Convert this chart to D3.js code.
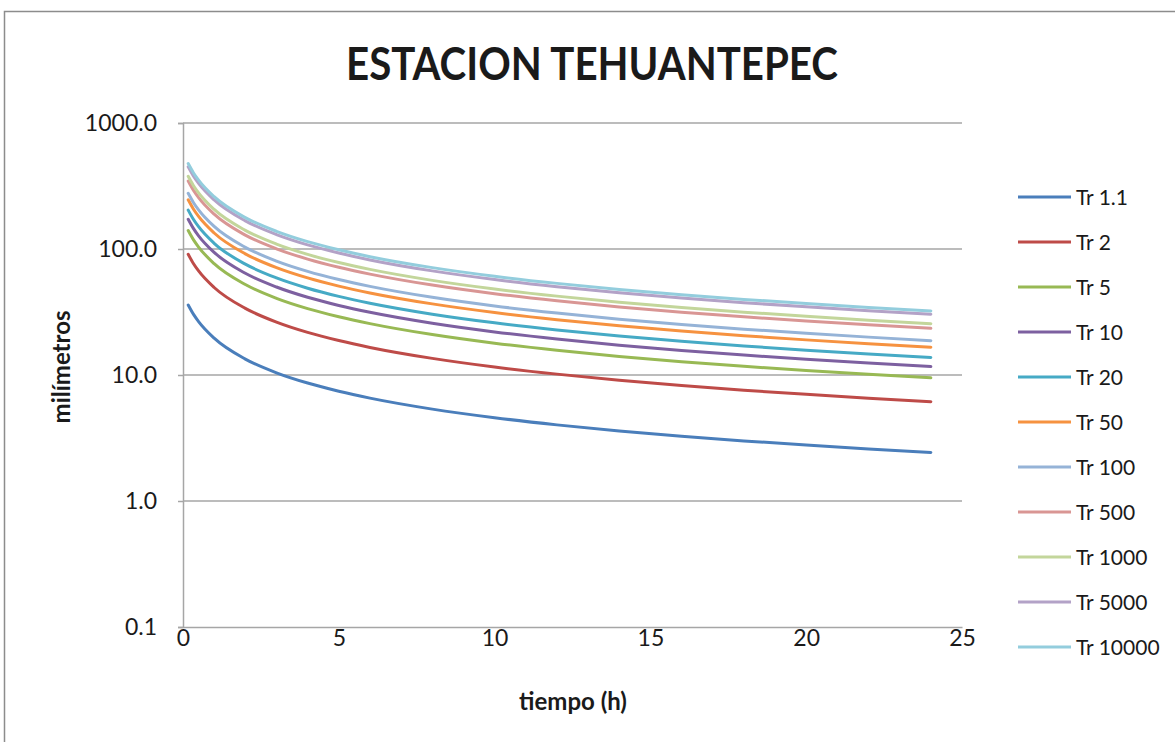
<!DOCTYPE html>
<html lang="es">
<head>
<meta charset="UTF-8">
<title>ESTACION TEHUANTEPEC</title>
<style>
  body { margin: 0; background: #ffffff; }
  svg { display: block; }
  text { font-family: Lato, "Open Sans", sans-serif; fill: #1a1a1a; }
</style>
<script src="https://cdn.jsdelivr.net/npm/d3@7"></script>
</head>
<body>
<script>
// duración (h)
const tiempo = [0.167, 0.333, 0.5, 1, 2, 3, 4, 5, 6, 8, 10, 12, 14, 16, 18, 20, 22, 24];

// periodos de retorno
const periodos = ["Tr 1.1", "Tr 2", "Tr 5", "Tr 10", "Tr 20", "Tr 50", "Tr 100", "Tr 500", "Tr 1000", "Tr 5000", "Tr 10000"];

// valores (mm)
const tr1_1   = [35.93, 30.40, 26.54, 19.60, 13.38, 10.41, 8.63, 7.43, 6.55, 5.36, 4.58, 4.02, 3.60, 3.27, 3.00, 2.78, 2.59, 2.43];
const tr2     = [90.73, 76.77, 67.02, 49.50, 33.80, 26.29, 21.78, 18.76, 16.55, 13.55, 11.57, 10.16, 9.09, 8.26, 7.58, 7.02, 6.55, 6.14];
const tr5     = [140.2, 118.7, 103.6, 76.5, 52.23, 40.63, 33.67, 28.99, 25.58, 20.94, 17.88, 15.70, 14.05, 12.76, 11.71, 10.85, 10.12, 9.49];
const tr10    = [172.3, 145.8, 127.3, 94.0, 64.18, 49.92, 41.37, 35.62, 31.43, 25.73, 21.97, 19.29, 17.26, 15.68, 14.39, 13.33, 12.44, 11.67];
const tr20    = [203.5, 172.2, 150.3, 111.0, 75.79, 58.95, 48.85, 42.06, 37.12, 30.38, 25.94, 22.78, 20.38, 18.51, 16.99, 15.74, 14.69, 13.78];
const tr50    = [245.6, 207.8, 181.4, 134.0, 91.50, 71.17, 58.97, 50.77, 44.81, 36.68, 31.32, 27.50, 24.60, 22.35, 20.52, 19.00, 17.73, 16.63];
const tr100   = [276.8, 234.2, 204.5, 151.0, 103.1, 80.20, 66.46, 57.21, 50.49, 41.33, 35.29, 30.99, 27.72, 25.19, 23.12, 21.41, 19.98, 18.74];
const tr500   = [346.4, 293.1, 255.9, 189.0, 129.0, 100.4, 83.18, 71.61, 63.20, 51.73, 44.17, 38.78, 34.70, 31.53, 28.94, 26.80, 25.00, 23.45];
const tr1000  = [377.6, 319.5, 278.9, 206.0, 140.7, 109.4, 90.66, 78.05, 68.89, 56.38, 48.14, 42.27, 37.82, 34.36, 31.54, 29.21, 27.25, 25.56];
const tr5000  = [449.1, 380.0, 331.7, 245.0, 167.3, 130.1, 107.8, 92.83, 81.93, 67.06, 57.26, 50.27, 44.98, 40.87, 37.51, 34.74, 32.41, 30.40];
const tr10000 = [476.6, 403.3, 352.0, 260.0, 177.5, 138.1, 114.4, 98.51, 86.94, 71.16, 60.76, 53.35, 47.74, 43.37, 39.81, 36.87, 34.40, 32.27];

const valores = [tr1_1, tr2, tr5, tr10, tr20, tr50, tr100, tr500, tr1000, tr5000, tr10000];

const colores = ["#4a7ebb", "#be4b48", "#98b954", "#7d60a0", "#46aac5", "#f69240",
                 "#95b3d7", "#d99694", "#c3d69b", "#b3a2c7", "#93cddd"];

const yTicks = [0.1, 1, 10, 100, 1000];
const xTicks = [0, 5, 10, 15, 20, 25];

const width = 1175, height = 742;

const svg = d3.select("body").append("svg")
    .attr("width", width)
    .attr("height", height);

// marco del gráfico
svg.append("rect")
    .attr("x", 4.5).attr("y", 11.5)
    .attr("width", 1200).attr("height", 800)
    .attr("fill", "none")
    .attr("stroke", "#8c8c8c")
    .attr("stroke-width", 1.5);

const x = d3.scaleLinear().domain([0, 25]).range([183, 962]);
const y = d3.scaleLog().domain([0.1, 1000]).range([627, 123]);

// líneas de cuadrícula
svg.append("g")
    .selectAll("line")
    .data(yTicks.slice(1))
    .join("line")
    .attr("x1", x(0)).attr("x2", x(25))
    .attr("y1", d => y(d)).attr("y2", d => y(d))
    .attr("stroke", "#a6a6a6")
    .attr("stroke-width", 1.5);

// eje y
const yAxis = svg.append("g")
    .attr("transform", `translate(${x(0)},0)`)
    .call(d3.axisLeft(y).tickValues(yTicks).tickFormat(d3.format(".1f")).tickSize(5).tickPadding(21));
yAxis.select(".domain").attr("stroke", "#a6a6a6").attr("stroke-width", 1.5);
yAxis.selectAll(".tick line").attr("stroke", "#a6a6a6").attr("stroke-width", 1.5);
yAxis.selectAll(".tick text")
    .attr("font-family", "Lato, 'Open Sans', sans-serif")
    .attr("font-size", 23)
    .attr("fill", "#1a1a1a");

// eje x
const xAxis = svg.append("g")
    .attr("transform", `translate(0,${y(0.1)})`)
    .call(d3.axisBottom(x).tickValues(xTicks).tickFormat(d3.format("d")).tickSize(0).tickPadding(3));
xAxis.select(".domain").attr("stroke", "#a6a6a6").attr("stroke-width", 1.5);
xAxis.selectAll(".tick text")
    .attr("font-family", "Lato, 'Open Sans', sans-serif")
    .attr("font-size", 23)
    .attr("fill", "#1a1a1a");

// series
const line = d3.line()
    .x((d, i) => x(tiempo[i]))
    .y(d => y(d))
    .curve(d3.curveMonotoneX);

svg.append("g")
    .selectAll("path")
    .data(valores)
    .join("path")
    .attr("d", d => line(d))
    .attr("fill", "none")
    .attr("stroke", (d, i) => colores[i])
    .attr("stroke-width", 3)
    .attr("stroke-linejoin", "round")
    .attr("stroke-linecap", "round");

// leyenda
const legend = svg.append("g")
    .selectAll("g")
    .data(periodos)
    .join("g")
    .attr("transform", (d, i) => `translate(1018,${197 + i * 45})`);

legend.append("line")
    .attr("x1", 0).attr("x2", 53)
    .attr("stroke", (d, i) => colores[i])
    .attr("stroke-width", 3);

legend.append("text")
    .attr("x", 58)
    .attr("dy", "0.36em")
    .attr("font-size", 21)
    .text(d => d);

// título
svg.append("text")
    .attr("x", 592).attr("y", 80)
    .attr("text-anchor", "middle")
    .attr("font-size", 45)
    .attr("font-weight", "bold")
    .attr("textLength", 492)
    .attr("lengthAdjust", "spacingAndGlyphs")
    .text("ESTACION TEHUANTEPEC");

// títulos de ejes
svg.append("text")
    .attr("transform", "translate(70,367) rotate(-90)")
    .attr("text-anchor", "middle")
    .attr("font-size", 24)
    .attr("font-weight", "bold")
    .text("milímetros");

svg.append("text")
    .attr("x", 573).attr("y", 710)
    .attr("text-anchor", "middle")
    .attr("font-size", 24)
    .attr("font-weight", "bold")
    .text("tiempo (h)");
</script>
</body>
</html>
